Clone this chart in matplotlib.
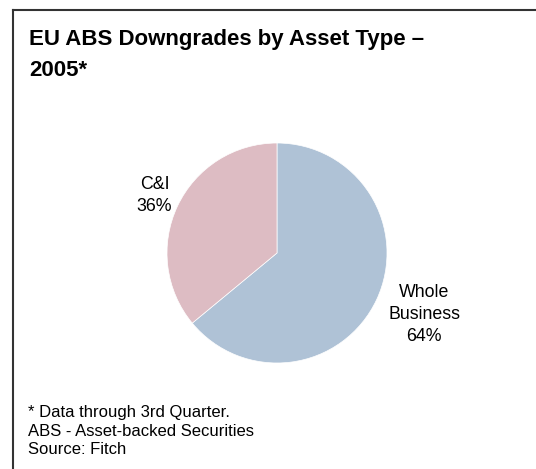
import numpy as np
import matplotlib
matplotlib.use('Agg')
import matplotlib.pyplot as plt
from matplotlib.lines import Line2D

# data
categories = ['Whole\nBusiness', 'C&I']
shares = [64, 36]
colors = ['#AFC2D6', '#DDBCC3']
title_lines = ['EU ABS Downgrades by Asset Type \u2013', '2005*']
footnotes = ['* Data through 3rd Quarter.',
             'ABS - Asset-backed Securities',
             'Source: Fitch']

plt.rcParams['font.family'] = ['Liberation Sans', 'DejaVu Sans']

W, H = 536, 469
fig = plt.figure(figsize=(W / 100, H / 100), dpi=100)

# frame (only top and left edges visible)
fig.add_artist(Line2D([13 / W, 13 / W], [0, 1 - 10 / H], color='#333333', lw=1.5))
fig.add_artist(Line2D([13 / W, 1], [1 - 10 / H, 1 - 10 / H], color='#333333', lw=1.5))

# title
for txt, base in zip(title_lines, [45, 76]):
    fig.text(29 / W, 1 - base / H, txt, fontsize=16, fontweight='bold',
             ha='left', va='baseline')

# footnotes
for txt, base in zip(footnotes, [417, 436, 454]):
    fig.text(28 / W, 1 - base / H, txt, fontsize=12, ha='left', va='baseline')

# pie
cx, cy, r = 277, 253, 110
ax = fig.add_axes([(cx - r) / W, (H - cy - r) / H, 2 * r / W, 2 * r / H])
wedges, _ = ax.pie(shares, colors=colors, startangle=90, counterclock=False,
                   wedgeprops=dict(edgecolor='white', linewidth=0.5))
ax.set_xlim(-1, 1)
ax.set_ylim(-1, 1)
ax.set_aspect('equal')

label_dist = [1.45, 1.23]
angle_shift = [2.5, 0]
for w, cat, val, d, s in zip(wedges, categories, shares, label_dist, angle_shift):
    ang = np.deg2rad((w.theta1 + w.theta2) / 2 + s)
    ax.text(d * np.cos(ang), d * np.sin(ang), f'{cat}\n{val}%', fontsize=12.8,
            ha='center', va='center', multialignment='center', linespacing=1.38)

fig.savefig('out.png', dpi=100)
